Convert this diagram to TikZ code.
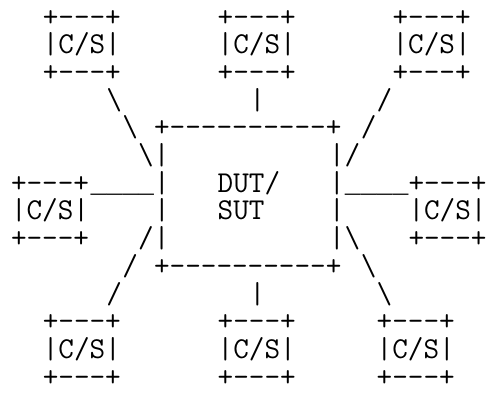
\documentclass[tikz,border=0pt]{standalone}
\usepackage{fontspec}
\newfontfamily\uline{Liberation Mono}
\newcommand*\ubar{{\uline\fontsize{26.5}{27.7}\selectfont\_\_\_\_}}
\begin{document}
\begin{tikzpicture}[x=15.9pt,y=-27.7pt,
  t/.style={anchor=base west, inner sep=0pt, outer sep=0pt,
    font=\ttfamily\fontsize{30.3}{27.7}\selectfont}]
\useasboundingbox (-11pt,26pt) rectangle (478pt,-379pt);
% top row of C/S boxes
\node[t] (tl1) at (2,0) {+---+};
\node[t] (tm1) at (13,0) {+---+};
\node[t] (tr1) at (24,0) {+---+};
\node[t] (tl2) at (2,1) {|C/S|};
\node[t] (tm2) at (13,1) {|C/S|};
\node[t] (tr2) at (24,1) {|C/S|};
\node[t] (tl3) at (2,2) {+---+};
\node[t] (tm3) at (13,2) {+---+};
\node[t] (tr3) at (24,2) {+---+};
% upper links
\node[t] (ul4) at (6,3) {\textbackslash};
\node[t] (um4) at (15,3) {|};
\node[t] (ur4) at (23,3) {/};
\node[t] (ul5) at (7,4) {\textbackslash};
\node[t] (dtop) at (9,4) {+----------+};
\node[t] (ur5) at (22,4) {/};
\node[t] (ul6) at (8,5) {\textbackslash|};
\node[t] (ur6) at (20,5) {|/};
% middle row
\node[t] (ml7) at (0,6) {+---+};
\node[t] (lbar) at (5,6) {\ubar};
\node[t] (dl7) at (9,6) {|};
\node[t] (dut) at (13,6) {DUT/};
\node[t] (dr7) at (20,6) {|};
\node[t] (rbar) at (21,6) {\ubar};
\node[t] (mr7) at (25,6) {+---+};
\node[t] (ml8) at (0,7) {|C/S|};
\node[t] (dl8) at (9,7) {|};
\node[t] (sut) at (13,7) {SUT};
\node[t] (dr8) at (20,7) {|};
\node[t] (mr8) at (25,7) {|C/S|};
\node[t] (ml9) at (0,8) {+---+};
\node[t] (dl9) at (8,8) {/|};
\node[t] (dr9) at (20,8) {|\textbackslash};
\node[t] (mr9) at (25,8) {+---+};
% lower links
\node[t] (ll10) at (7,9) {/};
\node[t] (dbot) at (9,9) {+----------+};
\node[t] (lr10) at (22,9) {\textbackslash};
\node[t] (ll11) at (6,10) {/};
\node[t] (lm11) at (15,10) {|};
\node[t] (lr11) at (23,10) {\textbackslash};
% bottom row of C/S boxes
\node[t] (bl1) at (2,11) {+---+};
\node[t] (bm1) at (13,11) {+---+};
\node[t] (br1) at (23,11) {+---+};
\node[t] (bl2) at (2,12) {|C/S|};
\node[t] (bm2) at (13,12) {|C/S|};
\node[t] (br2) at (23,12) {|C/S|};
\node[t] (bl3) at (2,13) {+---+};
\node[t] (bm3) at (13,13) {+---+};
\node[t] (br3) at (23,13) {+---+};
\end{tikzpicture}
\end{document}
